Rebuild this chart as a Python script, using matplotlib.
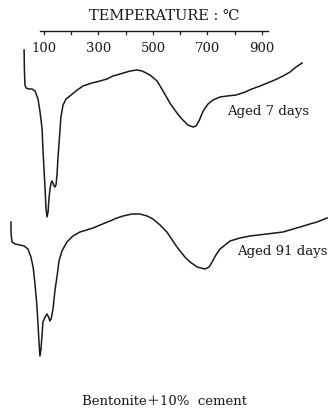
import matplotlib.pyplot as plt
import numpy as np

# DTA curves, Bentonite + 10% cement
# temperature (deg C) read off the top scale, deflection in arbitrary units (up = exothermic)
temp_7d = [27, 28, 30, 34, 45, 56, 67, 78, 85, 93, 96, 100, 104, 107, 111, 115, 118, 122,
           126, 129, 133, 137, 140, 144, 148, 151, 155, 159, 162, 170, 181, 195, 217, 243,
           276, 306, 331, 353, 379, 416, 441, 460, 489, 515, 537, 562, 588, 606, 628, 647,
           658, 669, 684, 702, 720, 746, 772, 805, 838, 863, 893, 929, 955, 984, 1003, 1025, 1047]
dta_7d = [0, -19, -35, -38, -39, -39, -41, -49, -61, -79, -99, -119, -139, -157, -167, -162,
          -149, -139, -133, -131, -133, -136, -137, -135, -124, -109, -94, -79, -67, -55, -49,
          -46, -41, -36, -33, -31, -29, -26, -24, -21, -20, -21, -25, -31, -41, -53, -63, -69,
          -75, -77, -76, -71, -61, -54, -50, -47, -46, -45, -42, -39, -36, -32, -29, -25, -22,
          -17, -13]

temp_91d = [-21, -21, -17, -6, 12, 27, 41, 52, 60, 67, 74, 78, 82, 85, 89, 93, 96, 104, 111,
            115, 122, 126, 133, 140, 148, 155, 166, 184, 206, 232, 280, 306, 342, 368, 390,
            423, 452, 478, 500, 526, 551, 588, 617, 636, 662, 691, 706, 717, 731, 746, 783,
            819, 856, 918, 977, 1040, 1076, 1102, 1139]
dta_91d = [0, -12, -20, -22, -23, -24, -27, -35, -45, -62, -84, -102, -122, -134, -127, -112,
           -100, -95, -92, -94, -99, -97, -87, -69, -54, -39, -29, -20, -14, -10, -6, -3, 1, 4,
           6, 8, 8, 6, 3, -3, -10, -25, -35, -40, -45, -47, -45, -40, -33, -27, -19, -16, -14,
           -12, -10, -5, -2, 0, 4]

tick_temps = [100, 200, 300, 400, 500, 600, 700, 800, 900]
label_temps = [100, 300, 500, 700, 900]
curve_labels = ["Aged 7 days", "Aged 91 days"]

W, H = 333, 410
# scale: 100 C at x=44 px, 3.67 C per px
x_left = 100 - 44 * 3.67
x_right = 100 + (W - 44) * 3.67

fig = plt.figure(figsize=(W / 100, H / 100), dpi=100)
ax = fig.add_axes([0, 0, 1, 1])
ax.set_xlim(x_left, x_right)
ax.set_ylim(H, 0)
ax.axis('off')

ink = '#1a1a1a'
serif = ['DejaVu Serif']

# curves, stacked (baseline in px from top)
ax.plot(temp_7d, 51 - np.array(dta_7d), color=ink, lw=1.1)
ax.plot(temp_91d, 223 - np.array(dta_91d), color=ink, lw=1.1)

# temperature scale on top
ax.plot([85, 922], [32, 32], color=ink, lw=1.0)
for t in tick_temps:
    ax.plot([t, t], [32, 35], color=ink, lw=0.9)
for t in label_temps:
    ax.text(t, 48, str(t), ha='center', va='center', fontsize=9.5, family=serif, color=ink)
ax.text(540, 16, "TEMPERATURE : ℃", ha='center', va='center', fontsize=10.5,
        family=serif, color=ink)

# curve labels
fig.text(227 / W, 1 - 112 / H, curve_labels[0], ha='left', va='center', fontsize=9.5,
         family=serif, color=ink)
fig.text(237 / W, 1 - 252 / H, curve_labels[1], ha='left', va='center', fontsize=9.5,
         family=serif, color=ink)

fig.text(164 / W, 1 - 402 / H, "Bentonite＋10%  cement", ha='center', va='center',
         fontsize=9.5, family=serif + ['Noto Sans CJK JP'], color=ink)

fig.savefig('out.png', dpi=100, facecolor='white')
